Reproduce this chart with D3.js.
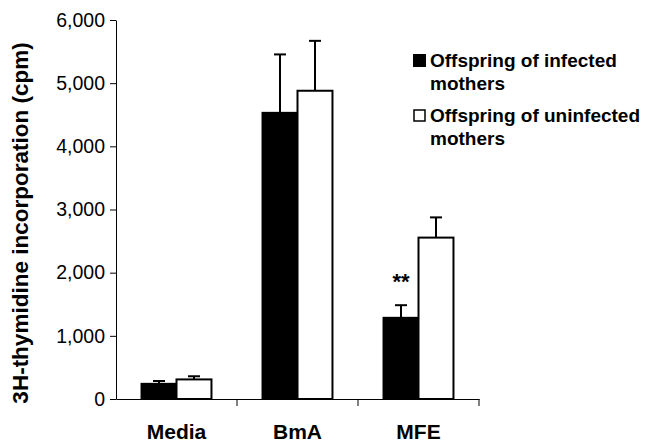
<!DOCTYPE html>
<html>
<head>
<meta charset="utf-8">
<script src="https://cdn.jsdelivr.net/npm/d3@7"></script>
<style>
  body { margin: 0; background: #fff; }
  svg { font-family: "Liberation Sans", Arial, sans-serif; }
</style>
</head>
<body>
<script>
// datos
const categorias = ["Media", "BmA", "MFE"]
const series = ["Offspring of infected mothers", "Offspring of uninfected mothers"]
const infectadas = [240, 4530, 1285]
const infectadasErr = [45, 925, 200]
const noInfectadas = [310, 4880, 2555]
const noInfectadasErr = [50, 790, 320]
const ticksY = [0, 1000, 2000, 3000, 4000, 5000, 6000]
const leyenda = [["Offspring of infected", "mothers"], ["Offspring of uninfected", "mothers"]]

var datos = categorias.map((c, i) => ({
    cat: c,
    valores: [
        {serie: series[0], v: infectadas[i], err: infectadasErr[i]},
        {serie: series[1], v: noInfectadas[i], err: noInfectadasErr[i]}
    ]
}))

var margin = {top: 20, right: 166, bottom: 45, left: 116}
var width = 645 - margin.left - margin.right
var height = 444 - margin.top - margin.bottom

var svg = d3.select("body").append("svg")
    .attr("width", 645)
    .attr("height", 444)
var g = svg.append("g")
    .attr("transform", "translate(" + margin.left + "," + margin.top + ")")

// escalas
var x0 = d3.scaleBand().domain(categorias).range([0, width]).padding(0)
var x1 = d3.scaleBand().domain(series).range([0, x0.bandwidth()])
    .paddingInner(0).paddingOuter(0.73)
var y = d3.scaleLinear().domain([0, 6000]).range([height, 0])
var color = d3.scaleOrdinal().domain(series).range(["#000", "#fff"])

// barras
var grupos = g.selectAll(".grupo").data(datos).enter().append("g")
    .attr("transform", d => "translate(" + x0(d.cat) + ",0)")

grupos.selectAll("rect").data(d => d.valores).enter().append("rect")
    .attr("x", d => x1(d.serie))
    .attr("y", d => y(d.v))
    .attr("width", x1.bandwidth())
    .attr("height", d => height - y(d.v))
    .attr("fill", d => color(d.serie))
    .attr("stroke", "#000")
    .attr("stroke-width", 2)

// barras de error
grupos.selectAll(".err").data(d => d.valores).enter().append("line")
    .attr("x1", d => x1(d.serie) + x1.bandwidth() / 2)
    .attr("x2", d => x1(d.serie) + x1.bandwidth() / 2)
    .attr("y1", d => y(d.v))
    .attr("y2", d => y(d.v + d.err))
    .attr("stroke", "#000").attr("stroke-width", 2)
grupos.selectAll(".cap").data(d => d.valores).enter().append("line")
    .attr("x1", d => x1(d.serie) + x1.bandwidth() / 2 - 6)
    .attr("x2", d => x1(d.serie) + x1.bandwidth() / 2 + 6)
    .attr("y1", d => y(d.v + d.err))
    .attr("y2", d => y(d.v + d.err))
    .attr("stroke", "#000").attr("stroke-width", 2)

// significancia
g.append("text")
    .attr("x", x0("MFE") + x1(series[0]) + x1.bandwidth() / 2)
    .attr("y", y(infectadas[2] + infectadasErr[2]) - 16)
    .attr("text-anchor", "middle")
    .attr("font-size", 22).attr("font-weight", "bold")
    .text("**")

// eje Y
var ejeY = g.append("g")
    .call(d3.axisLeft(y).tickValues(ticksY).tickFormat(d3.format(",")).tickSize(6).tickSizeOuter(0))
ejeY.selectAll("text").attr("font-size", 19.5).attr("fill", "#000")
    .attr("font-family", "Liberation Sans, Arial, sans-serif").attr("dx", "-2")
ejeY.selectAll("line, path").attr("stroke", "#000")

// eje X
var ejeX = g.append("g")
    .attr("transform", "translate(0," + height + ")")
    .call(d3.axisBottom(x0).tickValues([]).tickSizeOuter(0))
ejeX.select("path").attr("stroke", "#000")
ejeX.selectAll(".marca").data(categorias).enter().append("line")
    .attr("x1", d => x0(d) + x0.bandwidth()).attr("x2", d => x0(d) + x0.bandwidth())
    .attr("y1", 0).attr("y2", 7).attr("stroke", "#000")
ejeX.selectAll(".etq").data(categorias).enter().append("text")
    .attr("x", d => x0(d) + x0.bandwidth() / 2)
    .attr("y", 40)
    .attr("text-anchor", "middle")
    .attr("font-size", 21).attr("font-weight", "bold")
    .attr("font-family", "Liberation Sans, Arial, sans-serif")
    .attr("fill", "#000")
    .text(d => d)

// titulo eje Y
svg.append("text")
    .attr("transform", "translate(28,223) rotate(-90)")
    .attr("text-anchor", "middle")
    .attr("font-size", 22.5).attr("font-weight", "bold")
    .text("3H-thymidine incorporation (cpm)")

// leyenda
var ley = svg.append("g").attr("transform", "translate(413,0)")
leyenda.forEach(function (lineas, i) {
    var y0 = i == 0 ? 67 : 122
    ley.append("rect")
        .attr("x", i == 0 ? 0 : 1).attr("y", y0 - (i == 0 ? 13 : 12))
        .attr("width", i == 0 ? 13 : 11).attr("height", i == 0 ? 13 : 11)
        .attr("fill", color(series[i])).attr("stroke", "#000").attr("stroke-width", i == 0 ? 0 : 1.5)
    lineas.forEach(function (t, j) {
        ley.append("text")
            .attr("x", 17).attr("y", y0 + j * 23)
            .attr("font-size", 19).attr("font-weight", "bold")
            .text(t)
    })
})
</script>
</body>
</html>
